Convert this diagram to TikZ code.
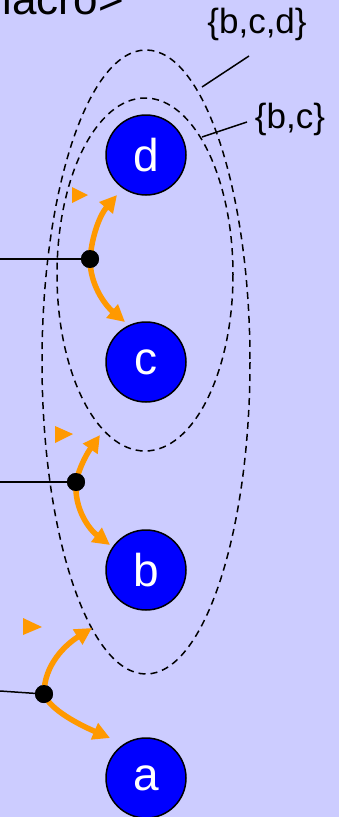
\documentclass[tikz,border=0pt]{standalone}
\usepackage{fontspec}
\setmainfont{Liberation Sans}
\usetikzlibrary{arrows.meta}
\definecolor{bgc}{RGB}{204,204,255}
\definecolor{orng}{RGB}{255,153,0}
\definecolor{bl}{RGB}{0,0,255}
\begin{document}
\begin{tikzpicture}[x=1pt,y=-1pt,
  statenode/.style={circle,draw=black,line width=1.5pt,fill=bl,minimum size=80pt,inner sep=0pt,text=white,font=\fontsize{46}{50}\selectfont},
  pdot/.style={circle,fill=black,minimum size=18pt,inner sep=0pt},
  setline/.style={black,line width=1.5pt,dash pattern=on 7pt off 5pt},
  orarrow/.style={orng,line width=5.5pt,-{Triangle[length=17pt,width=17pt]}},
  ortri/.style={fill=orng,draw=none},
  lbl/.style={font=\fontsize{35}{39}\selectfont,inner sep=0pt},
  thin/.style={black,line width=1.5pt}]
\useasboundingbox (0,0) rectangle (339,817);
\fill[bgc] (0,0) rectangle (339,817);
% sets
\draw[setline] (146,362) ellipse [x radius=104, y radius=312];
\draw[setline] (145,274.5) ellipse [x radius=88, y radius=176.5];
% states
\node[statenode] (d) at (146,155) {d};
\node[statenode] (c) at (146,362) {c};
\node[statenode] (b) at (146,570) {b};
\node[statenode] (a) at (146,778) {a};
% macro label
\node[anchor=base east,inner sep=0pt,font=\fontsize{44}{48}\selectfont] (macro) at (124,14) {<macro>};
% set labels
\node[lbl,anchor=base] (bcd) at (257,33) {\{b,c,d\}};
\node[lbl,anchor=base] (bc) at (290,128) {\{b,c\}};
\coordinate (e1) at (202,87);
\coordinate (e1l) at (249,56);
\coordinate (e2) at (202,137);
\coordinate (e2l) at (247,122);
\draw[thin] (e1) -- (e1l);
\draw[thin] (e2) -- (e2l);
% points
\node[pdot] (p1) at (90,259) {};
\node[pdot] (p2) at (76,482) {};
\node[pdot] (p3) at (44,694) {};
\coordinate (l1) at (0,259);
\coordinate (l2) at (0,482);
\coordinate (l3) at (0,691);
\draw[thin] (l1) -- (p1.center);
\draw[thin] (l2) -- (p2.center);
\draw[thin] (l3) -- (p3.center);
% arrow tips
\coordinate (t1u) at (117,195);
\coordinate (t1d) at (125,322);
\coordinate (t2u) at (100,435);
\coordinate (t2d) at (110,545);
\coordinate (t3u) at (92,628);
\coordinate (t3d) at (110,738);
\draw[orarrow] (p1.center) .. controls (92,235) and (100,215) .. (t1u);
\draw[orarrow] (p1.center) .. controls (90,285) and (105,305) .. (t1d);
\draw[orarrow] (p2.center) .. controls (80,465) and (88,452) .. (t2u);
\draw[orarrow] (p2.center) .. controls (74,510) and (90,530) .. (t2d);
\draw[orarrow] (p3.center) .. controls (44,665) and (65,645) .. (t3u);
\draw[orarrow] (p3.center) .. controls (50,710) and (80,725) .. (t3d);
\node[pdot] at (p1) {};
\node[pdot] at (p2) {};
\node[pdot] at (p3) {};
% loose triangles
\fill[ortri] (72,187) -- (72,203) -- (88,195) -- cycle;
\fill[ortri] (55,426) -- (55,443) -- (73,434) -- cycle;
\fill[ortri] (23,618) -- (23,635) -- (42,627) -- cycle;
\end{tikzpicture}
\end{document}
